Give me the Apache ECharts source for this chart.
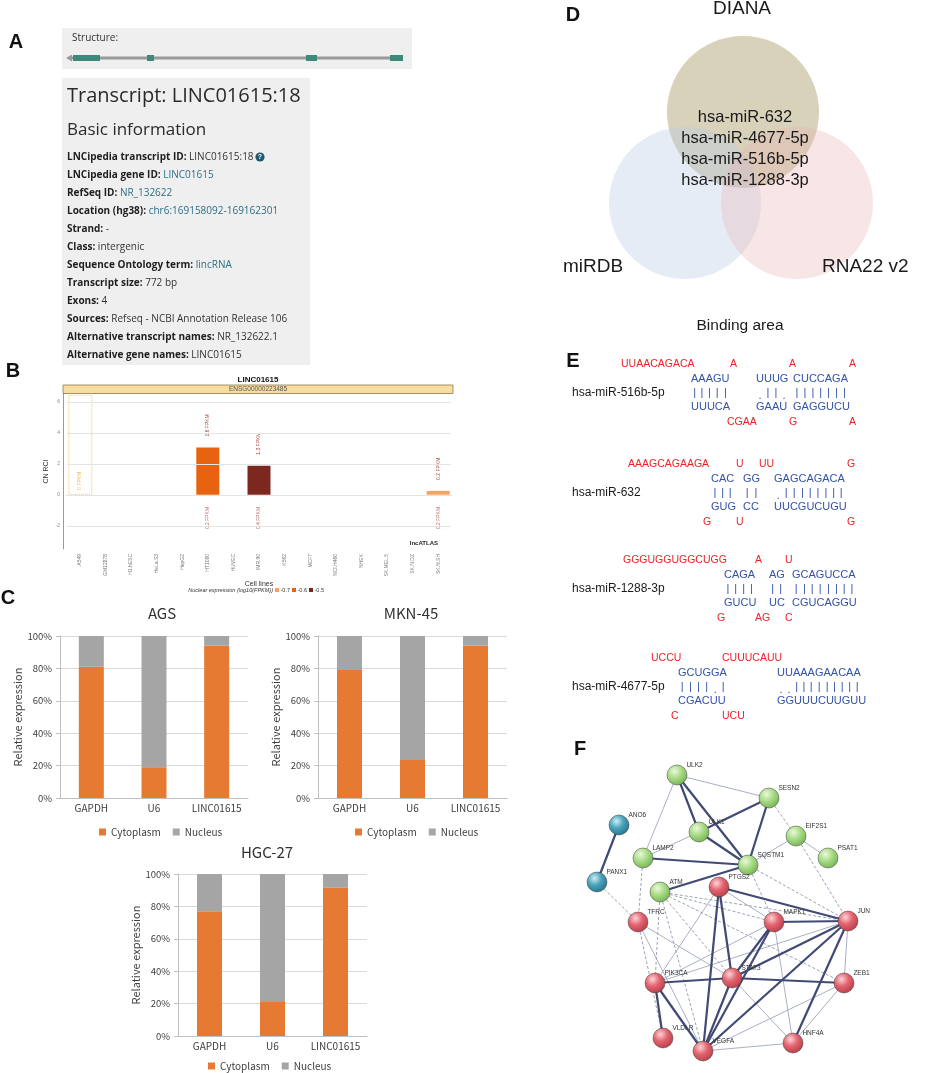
<!DOCTYPE html>
<html><head><meta charset="utf-8">
<script src="https://cdn.jsdelivr.net/npm/echarts@6/dist/echarts.min.js"></script>
<style>html,body{margin:0;padding:0;background:#fff;}#c{width:941px;height:1073px;}</style>
</head><body><div id="c"></div>
<script>
// ---------------- DATA ----------------
// Panel A
const transcriptTitle = 'Transcript: LINC01615:18';
const infoRows = [
  ['LNCipedia transcript ID:', 'LINC01615:18', false],
  ['LNCipedia gene ID:', 'LINC01615', true],
  ['RefSeq ID:', 'NR_132622', true],
  ['Location (hg38):', 'chr6:169158092-169162301', true],
  ['Strand:', '-', false],
  ['Class:', 'intergenic', false],
  ['Sequence Ontology term:', 'lincRNA', true],
  ['Transcript size:', '772 bp', false],
  ['Exons:', '4', false],
  ['Sources:', 'Refseq - NCBI Annotation Release 106', false],
  ['Alternative transcript names:', 'NR_132622.1', false],
  ['Alternative gene names:', 'LINC01615', false]
];
// Panel B
const cellLines = ['A549','GM12878','H1.hESC','HeLa.S3','HepG2','HT1080','HUVEC','IMR.90','K562','MCF7','NCI.H460','NHEK','SK.MEL.5','SK.N.DZ','SK.N.SH'];
const cnRci    = [0, null, null, null, null, 3.05, null, 1.87, null, null, null, null, null, null, 0.25];
const cytoFpkm = ['0 FPKM', null, null, null, null, '1.6 FPKM', null, '1.3 FPKM', null, null, null, null, null, null, '0.2 FPKM'];
const nucFpkm  = [null, null, null, null, null, '0.2 FPKM', null, '0.4 FPKM', null, null, null, null, null, null, '0.2 FPKM'];
const nucLog   = [null, null, null, null, null, -0.6, null, -0.5, null, null, null, null, null, null, -0.7];
const nucLevels = [-0.7, -0.6, -0.5];
const bTicks = [-2, 0, 2, 4, 6];
// Panel C
const fractionGenes = ['GAPDH', 'U6', 'LINC01615'];
const agsCyto = [81, 19, 94],   agsNuc = [19, 81, 6];
const mknCyto = [79, 23.5, 94], mknNuc = [21, 76.5, 6];
const hgcCyto = [77, 21.5, 91.5], hgcNuc = [23, 78.5, 8.5];
// Panel D
const vennSets = ['DIANA', 'miRDB', 'RNA22 v2'];
const vennCenters = [[183, 112], [125, 203], [237, 203]];
const sharedMirs = ['hsa-miR-632', 'hsa-miR-4677-5p', 'hsa-miR-516b-5p', 'hsa-miR-1288-3p'];
// Panel E
const bindings = [
  {mir:'hsa-miR-516b-5p', y:393,
   redTop:[[621,'UUAACAGACA'],[730,'A'],[789,'A'],[849,'A']],
   blueTop:[[691,'AAAGU'],[756,'UUUG'],[793,'CUCCAGA']],
   pairs:['|||||','.||.','|||||||'],
   blueBot:[[691,'UUUCA'],[756,'GAAU'],[793,'GAGGUCU']],
   redBot:[[727,'CGAA'],[789,'G'],[849,'A']]},
  {mir:'hsa-miR-632', y:493,
   redTop:[[628,'AAAGCAGAAGA'],[736,'U'],[759,'UU'],[847,'G']],
   blueTop:[[711,'CAC'],[743,'GG'],[774,'GAGCAGACA']],
   pairs:['|||','||','.||||||||'],
   blueBot:[[711,'GUG'],[743,'CC'],[774,'UUCGUCUGU']],
   redBot:[[703,'G'],[736,'U'],[847,'G']]},
  {mir:'hsa-miR-1288-3p', y:589,
   redTop:[[623,'GGGUGGUGGCUGG'],[755,'A'],[785,'U']],
   blueTop:[[724,'CAGA'],[769,'AG'],[792,'GCAGUCCA']],
   pairs:['||||','||','||||||||'],
   blueBot:[[724,'GUCU'],[769,'UC'],[792,'CGUCAGGU']],
   redBot:[[717,'G'],[755,'AG'],[785,'C']]},
  {mir:'hsa-miR-4677-5p', y:687,
   redTop:[[651,'UCCU'],[722,'CUUUCAUU']],
   blueTop:[[678,'GCUGGA'],[777,'UUAAAGAACAA']],
   pairs:['||||.|','..|||||||||'],
   blueBot:[[678,'CGACUU'],[777,'GGUUUCUUGUU']],
   redBot:[[671,'C'],[722,'UCU']]}
];
// Panel F  [name, x, y, cluster]
const netNodes = [
  ['ULK2',107,45,'g'],['SESN2',199,68,'g'],['ANO6',49,95,'t'],['ULK1',129,102,'g'],
  ['EIF2S1',226,106,'g'],['LAMP2',73,128,'g'],['PSAT1',258,128,'g'],['SQSTM1',178,135,'g'],
  ['PANX1',27,152,'t'],['ATM',90,162,'g'],['PTGS2',149,157,'r'],['TFRC',68,192,'r'],
  ['MAPK1',204,192,'r'],['JUN',278,191,'r'],['PIK3CA',85,253,'r'],['STAT3',162,248,'r'],
  ['ZEB1',274,253,'r'],['VLDLR',93,308,'r'],['VEGFA',133,321,'r'],['HNF4A',223,313,'r']
];
const strongLinks = [['ULK2','ULK1'],['ULK2','SQSTM1'],['ULK1','SESN2'],['ULK1','SQSTM1'],['SESN2','SQSTM1'],
  ['LAMP2','SQSTM1'],['ATM','SQSTM1'],['ANO6','PANX1'],['PTGS2','STAT3'],['PTGS2','VEGFA'],['PTGS2','JUN'],
  ['MAPK1','JUN'],['MAPK1','STAT3'],['MAPK1','VEGFA'],['JUN','STAT3'],['JUN','VEGFA'],['JUN','HNF4A'],
  ['STAT3','VEGFA'],['STAT3','PIK3CA'],['STAT3','ZEB1'],['PIK3CA','VLDLR'],['PIK3CA','VEGFA']];
const weakLinks = [['ULK2','SESN2'],['ULK2','LAMP2'],['ULK1','LAMP2'],['SQSTM1','EIF2S1'],['EIF2S1','PSAT1'],
  ['PTGS2','MAPK1'],['PTGS2','PIK3CA'],['MAPK1','PIK3CA'],['JUN','PIK3CA'],['TFRC','STAT3'],['TFRC','VEGFA'],
  ['STAT3','HNF4A'],['MAPK1','HNF4A'],['ZEB1','VEGFA'],['ZEB1','HNF4A'],['JUN','ZEB1'],['HNF4A','VEGFA']];
const dashedLinks = [['SESN2','EIF2S1'],['EIF2S1','JUN'],['SQSTM1','JUN'],['SQSTM1','MAPK1'],['LAMP2','TFRC'],
  ['PANX1','TFRC'],['ATM','PIK3CA'],['ATM','VEGFA'],['ATM','STAT3'],['ATM','MAPK1'],['ATM','JUN'],['ATM','ZEB1'],['TFRC','VLDLR']];

// ---------------- STYLE HELPERS ----------------
const AR = 'Liberation Sans', OS = 'Open Sans', FC = 'Noto Sans CJK SC';
const levelColors = {'-0.7':'#f5a262', '-0.6':'#e8630f', '-0.5':'#7b291e'};
const clusterGrad = {
  g:['#eaf8dc','#a9dc86','#6fae4e'],
  r:['#fbd4d8','#e3646f','#b33a46'],
  t:['#cdeef6','#4aa3bb','#226f87']
};
function grad(c){ const s = clusterGrad[c]; return {type:'radial', x:0.38, y:0.32, r:0.75,
  colorStops:[{offset:0,color:s[0]},{offset:0.45,color:s[1]},{offset:1,color:s[2]}]}; }

const g = [];
function T(x, y, text, o){ g.push({type:'text', x:x, y:y, silent:true, z:50,
  style:Object.assign({text:text, fill:'#222', fontSize:12, fontFamily:AR, align:'left', verticalAlign:'middle'}, o||{})}); }
function R(x, y, w, h, fill, o){ g.push({type:'rect', silent:true, z:5, shape:{x:x,y:y,width:w,height:h}, style:Object.assign({fill:fill}, o||{})}); }

// panel letters
[['A',16,42],['B',13,371],['C',8,598],['D',573,15],['E',573,361],['F',580,749]].forEach(p=>
  T(p[1], p[2], p[0], {fontSize:20, fontWeight:'bold', align:'center', fill:'#111'}));

// ---------- Panel A ----------
R(62, 28, 350, 41, '#efefef');
T(72, 38, 'Structure:', {fontFamily:OS, fontSize:10, fill:'#333'});
R(70, 56.5, 333, 3, '#9a9a9a');
g.push({type:'polygon', silent:true, z:6, shape:{points:[[66,58],[72,54.5],[72,61.5]]}, style:{fill:'#9a9a9a'}});
[[73,27],[147,7],[306,11],[390,13]].forEach(e=> g.push({type:'rect', silent:true, z:7, shape:{x:e[0], y:55, width:e[1], height:6}, style:{fill:'#3d8a7a'}}));
R(62, 78, 248, 287, '#efefef');
T(67, 96, transcriptTitle, {fontFamily:OS, fontSize:20, fill:'#2a2a2a'});
T(67, 130, 'Basic information', {fontFamily:OS, fontSize:17, fill:'#2a2a2a'});
infoRows.forEach((r,i)=>{
  g.push({type:'text', x:67, y:157 + i*18, silent:true, z:50, style:{
    text:'{b|' + r[0] + '} {' + (r[2]?'l':'v') + '|' + r[1] + '}',
    fontFamily:OS, fontSize:10, verticalAlign:'middle',
    rich:{ b:{fontFamily:OS, fontSize:10, fontWeight:'bold', fill:'#1e1e1e'},
           v:{fontFamily:OS, fontSize:10, fill:'#333'},
           l:{fontFamily:OS, fontSize:10, fill:'#2c6f86'} } }});
});
g.push({type:'circle', silent:true, z:50, shape:{cx:260, cy:157, r:4.6}, style:{fill:'#1d5a70'}});
T(260, 157.5, '?', {fontFamily:AR, fontSize:7, fontWeight:'bold', fill:'#fff', align:'center'});

// ---------- Panel B decorations ----------
T(258, 380, 'LINC01615', {fontSize:8, fontWeight:'bold', align:'center', fill:'#111'});
R(63, 385, 390, 8.5, '#f7dd9f', {stroke:'#8c7b4c', lineWidth:0.8});
T(258, 389.3, 'ENSG00000223485', {fontSize:6.5, align:'center', fill:'#555'});
T(438, 543, 'lncATLAS', {fontSize:6, fontWeight:'bold', align:'right', fill:'#222'});
T(273, 590, 'Nuclear expression (log10(FPKM))', {fontSize:5.5, fontStyle:'italic', align:'right', fill:'#333'});
nucLevels.forEach((lv,i)=>{
  R(275 + i*17, 588, 4, 4, levelColors[String(lv)], {});
  g[g.length-1].z = 50;
  T(280.5 + i*17, 590, '-' + String(lv).replace('-',''), {fontSize:5.5, fill:'#333'});
});

// ---------- Panel C titles ----------
T(162, 613, 'AGS', {fontFamily:FC, fontSize:15, align:'center', fill:'#333'});
T(411, 613, 'MKN-45', {fontFamily:FC, fontSize:15, align:'center', fill:'#333'});
T(267, 852, 'HGC-27', {fontFamily:FC, fontSize:15, align:'center', fill:'#333'});

// ---------- Panel D texts ----------
T(742, 9, vennSets[0], {fontSize:19, align:'center', fill:'#1a1a1a'});
T(593, 267, vennSets[1], {fontSize:19, align:'center', fill:'#1a1a1a'});
T(822, 267, vennSets[2], {fontSize:19, align:'left', fill:'#1a1a1a'});
sharedMirs.forEach((m,i)=> T(745, 117 + i*21.3, m, {fontSize:16.5, align:'center', fill:'#1a1a1a'}));

// ---------- Panel E ----------
T(740, 326, 'Binding area', {fontSize:15.5, align:'center', fill:'#1a1a1a'});
const mctx = document.createElement('canvas').getContext('2d');
const RED = '#ec2227', BLUE = '#3352a8';
const seqFont = 11;
bindings.forEach(b=>{
  T(572, b.y, b.mir, {fontSize:12, fill:'#1a1a1a'});
  b.redTop.forEach(t=> T(t[0], b.y-29, t[1], {fontSize:10.5, fill:RED}));
  b.blueTop.forEach(t=> T(t[0], b.y-14, t[1], {fontSize:seqFont, fill:BLUE}));
  b.blueBot.forEach(t=> T(t[0], b.y+14, t[1], {fontSize:seqFont, fill:BLUE}));
  b.redBot.forEach(t=> T(t[0], b.y+29, t[1], {fontSize:10.5, fill:RED}));
  mctx.font = seqFont + 'px "' + AR + '"';
  b.blueTop.forEach((t,k)=>{
    const s = t[1], p = b.pairs[k]; let acc = t[0];
    for (let i=0;i<s.length;i++){
      const w = mctx.measureText(s[i]).width;
      const ch = p[i];
      if (ch === '|') T(acc + w/2, b.y, '|', {fontSize:11, align:'center', fill:BLUE});
      else if (ch === '.') T(acc + w/2, b.y+3, '.', {fontSize:11, align:'center', fill:BLUE});
      acc += w;
    }
  });
});

// ---------------- AXES / SERIES ----------------
function cX(i){ return {gridIndex:i, type:'category', data:fractionGenes,
  axisLine:{lineStyle:{color:'#bfbfbf'}}, axisTick:{length:4, lineStyle:{color:'#bfbfbf'}},
  axisLabel:{interval:0, color:'#404040', fontSize:10, fontFamily:FC, margin:5}}; }
function cY(i, gap){ return {gridIndex:i, type:'value', min:0, max:100, interval:20,
  name:'Relative expression', nameLocation:'middle', nameGap:gap,
  nameTextStyle:{color:'#404040', fontSize:11, fontFamily:FC},
  axisLine:{show:true, lineStyle:{color:'#bfbfbf'}}, axisTick:{show:true, length:4, lineStyle:{color:'#bfbfbf'}},
  axisLabel:{formatter:'{value}%', color:'#404040', fontSize:9.5, fontFamily:FC, margin:8},
  splitLine:{lineStyle:{color:'#d9d9d9'}}}; }
function cSeries(i, cyto, nuc){ return [
  {type:'bar', name:'Cytoplasm', xAxisIndex:i, yAxisIndex:i, stack:'s'+i, data:cyto, barWidth:25, itemStyle:{color:'#e67a33'}},
  {type:'bar', name:'Nucleus', xAxisIndex:i, yAxisIndex:i, stack:'s'+i, data:nuc, barWidth:25, itemStyle:{color:'#a5a5a5'}}
]; }
function cLegend(left, top){ return {data:['Cytoplasm','Nucleus'], left:left, top:top, icon:'rect', itemWidth:7, itemHeight:7,
  itemGap:12, textStyle:{fontSize:10, color:'#404040', fontFamily:FC}, selectedMode:false}; }

const bBars = cellLines.map((c,i)=> cnRci[i]==null ? null : {
  value: cnRci[i],
  itemStyle:{color: nucLog[i]==null ? 'transparent' : levelColors[String(nucLog[i])]},
  label:{show:true, formatter: cytoFpkm[i], position:'top', rotate:90, align:'left', verticalAlign:'middle',
    distance: i===0 ? 5 : 11, fontSize:5, color: i===0 ? '#f1b445' : '#a4473c'}
});
const a549Box = cellLines.map((c,i)=> i===0 ? 6.45 : null);
const nucLabelLevel = -1.5;
const nucLabelPts = cellLines.map((c,i)=> nucFpkm[i] ? nucLabelLevel : null);

const option = {
  animation:false,
  backgroundColor:'#ffffff',
  textStyle:{fontFamily:AR},
  grid:[
    {left:67, top:394, width:384, height:155},
    {left:60, top:636, width:188, height:162},
    {left:318, top:636, width:189, height:162},
    {left:178, top:874, width:189, height:162},
    {left:560, top:0, width:380, height:320},
    {left:570, top:730, width:370, height:340}
  ],
  xAxis:[
    {gridIndex:0, type:'category', data:cellLines, axisLine:{lineStyle:{color:'#9a9a9a'}}, axisTick:{show:false},
     axisLabel:{interval:0, rotate:90, fontSize:5, color:'#777', margin:5},
     name:'Cell lines', nameLocation:'middle', nameGap:25, nameTextStyle:{fontSize:7, color:'#333'}},
    cX(1), cX(2), cX(3),
    {gridIndex:4, type:'value', min:0, max:380, show:false},
    {gridIndex:5, type:'value', min:0, max:370, show:false}
  ],
  yAxis:[
    {gridIndex:0, type:'value', min:-3.5, max:6.5, interval:0.5, offset:4,
     axisLine:{show:true, lineStyle:{color:'#9a9a9a'}}, axisTick:{show:false}, splitLine:{show:false},
     axisLabel:{fontSize:5, color:'#888', margin:3, formatter: v => (bTicks.indexOf(v) >= 0 ? String(v) : '')},
     name:'CN RCI', nameLocation:'middle', nameGap:13, nameTextStyle:{fontSize:7, color:'#333'}},
    cY(1, 36), cY(2, 36), cY(3, 36),
    {gridIndex:4, type:'value', min:0, max:320, inverse:true, show:false},
    {gridIndex:5, type:'value', min:0, max:340, inverse:true, show:false}
  ],
  legend:[cLegend(94, 822), cLegend(350, 822), cLegend(203, 1056)],
  series:[
    {type:'bar', name:'A549 range', xAxisIndex:0, yAxisIndex:0, data:a549Box, barWidth:24, barGap:'-100%', silent:true,
     itemStyle:{color:'rgba(0,0,0,0)', borderColor:'#f3c46c', borderType:'dotted', borderWidth:1},
     markLine:{silent:true, symbol:'none', label:{show:false}, lineStyle:{color:'#e4e4e4', type:'solid', width:1},
       data: bTicks.map(v=>({yAxis:v}))}},
    {type:'bar', name:'CN RCI', xAxisIndex:0, yAxisIndex:0, data:bBars, barWidth:23, barGap:'-100%', z:3},
    {type:'scatter', name:'nuc', xAxisIndex:0, yAxisIndex:0, data:nucLabelPts, symbolSize:1, itemStyle:{color:'rgba(0,0,0,0)'},
     label:{show:true, position:'inside', rotate:90, fontSize:5, color:'#a4473c',
       formatter: p => nucFpkm[p.dataIndex] || ''}},
    ...cSeries(1, agsCyto, agsNuc),
    ...cSeries(2, mknCyto, mknNuc),
    ...cSeries(3, hgcCyto, hgcNuc),
    {type:'scatter', name:'venn', xAxisIndex:4, yAxisIndex:4, symbolSize:152, silent:true, z:1,
     data: vennSets.map((s,i)=>({name:s, value:vennCenters[i],
       itemStyle:{color:['rgba(176,163,116,0.62)','rgba(183,203,230,0.45)','rgba(232,178,178,0.40)'][i]}}))},
    {type:'graph', coordinateSystem:'cartesian2d', xAxisIndex:5, yAxisIndex:5, symbolSize:20, silent:true,
     data: netNodes.map(n=>({name:n[0], value:[n[1], n[2]],
        itemStyle:{color:grad(n[3]), borderColor:'rgba(40,40,40,0.55)', borderWidth:0.8}})),
     links: [].concat(
       weakLinks.map(l=>({source:l[0], target:l[1], lineStyle:{color:'#aab1c6', width:1, type:'solid', opacity:1}})),
       dashedLinks.map(l=>({source:l[0], target:l[1], lineStyle:{color:'#9ca3b8', width:1, type:[3,2], opacity:1}})),
       strongLinks.map(l=>({source:l[0], target:l[1], lineStyle:{color:'#414a74', width:2.2, type:'solid', opacity:1}}))
     ),
     label:{show:true, position:'right', offset:[-6,-10], fontSize:6.5, color:'#333', fontFamily:AR}}
  ],
  graphic: g
};
const chart = echarts.init(document.getElementById('c'), null, {renderer:'canvas', width:941, height:1073});
chart.setOption(option);
</script>
</body></html>
